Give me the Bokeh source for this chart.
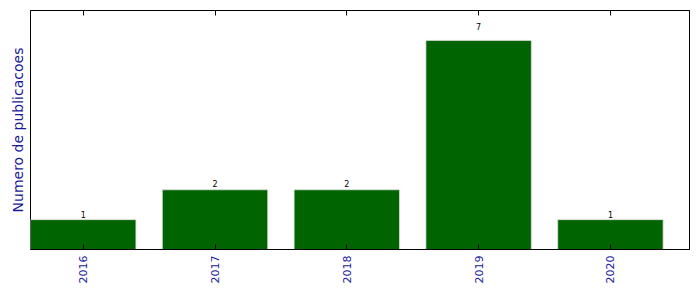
import math
from bokeh.plotting import figure
from bokeh.models import ColumnDataSource, Range1d, FixedTicker, LinearAxis, Title
from bokeh.core.properties import value
from bokeh.embed import file_html
from bokeh.resources import INLINE

years = ["2016", "2017", "2018", "2019", "2020"]
counts = [1, 2, 2, 7, 1]

xs = list(range(len(years)))
label_y = [c * 1.05 for c in counts]
src = ColumnDataSource(dict(x=xs, top=counts, ly=label_y, txt=[str(c) for c in counts]))

p = figure(width=699, height=292, output_backend="svg", toolbar_location=None,
           x_range=Range1d(-0.4, 4.6), y_range=Range1d(0, 8),
           min_border_left=30, min_border_right=10, min_border_top=10, min_border_bottom=43,
           x_axis_location="below")
p.background_fill_color = "white"
p.border_fill_color = "white"
p.outline_line_color = "black"
p.outline_line_width = 1
p.grid.visible = False
p.yaxis.visible = False

p.vbar(x="x", top="top", bottom=0, width=0.8, source=src,
       fill_color="#006400", line_color="#e0e0e0", line_width=0.8)
p.text(x="x", y="ly", text="txt", source=src, text_align="center",
       text_baseline="bottom", text_font_size="8px", text_color="black",
       text_font=value("DejaVu Sans"))

ax = p.xaxis[0]
ax.ticker = FixedTicker(ticks=xs)
ax.major_label_overrides = {i: y for i, y in zip(xs, years)}
ax.major_label_orientation = math.pi / 2
ax.major_label_text_color = "#1a1a9a"
ax.major_label_text_font = "DejaVu Sans"
ax.major_label_text_font_size = "11px"
ax.major_label_standoff = 6
ax.major_tick_in = 5
ax.major_tick_out = 0
ax.minor_tick_line_color = None
ax.axis_line_color = "black"
ax.major_tick_line_color = "black"

top = LinearAxis(ticker=FixedTicker(ticks=xs), major_label_text_font_size="1px",
                 major_label_text_color=None,
                 major_tick_in=5, major_tick_out=0, minor_tick_line_color=None,
                 axis_line_color="black", major_label_standoff=0)
p.add_layout(top, "above")

p.add_layout(Title(text="Numero de publicacoes", align="center",
                   text_font="DejaVu Sans", text_font_size="14px",
                   text_font_style="normal", text_color="#1a1a9a", offset=0), "left")

open("out.html", "w").write(file_html(p, INLINE))
